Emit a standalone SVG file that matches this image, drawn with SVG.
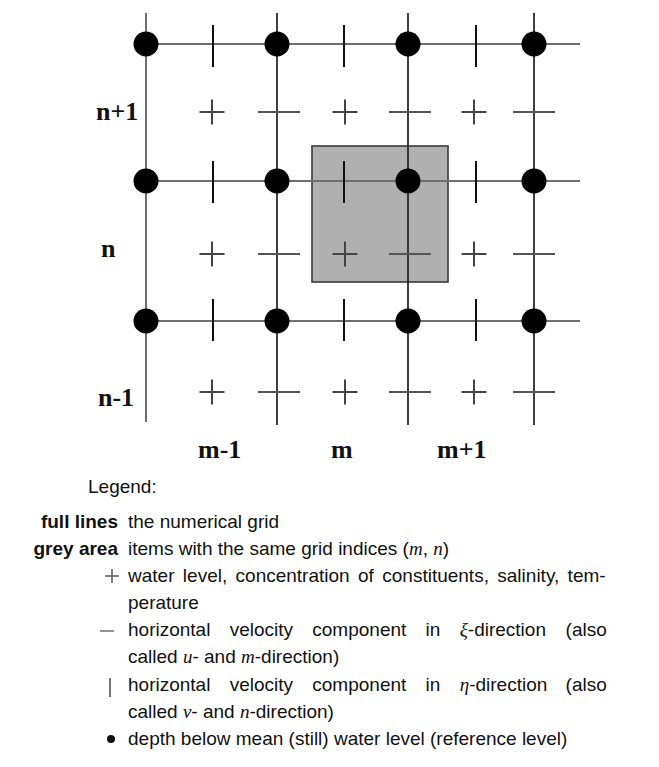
<svg xmlns="http://www.w3.org/2000/svg" width="659" height="767" viewBox="0 0 659 767">
<style>
.gl{stroke:#6e6e6e;stroke-width:2;fill:none}
.gd{stroke:#2a2a2a;stroke-width:1.8;fill:none}
.tick{stroke:#111;stroke-width:2}
.plus{stroke:#444;stroke-width:2}
.dash{stroke:#555;stroke-width:2}
.dot{fill:#000}
.lab{font-family:"Liberation Serif",serif;font-weight:bold;font-size:26px;fill:#111}
.txt{font-family:"Liberation Sans",Arial,sans-serif;font-size:19px;fill:#111}
.bold{font-weight:bold}
.math{font-family:"Liberation Serif",serif;font-style:italic}
</style>
<rect width="659" height="767" fill="#fff"/>
<g id="cell">
<rect x="312" y="146" width="136" height="136" fill="#b0b0b0" stroke="#3a3a3a" stroke-width="1.6"/>
</g>
<g id="grid">
<line class="gl" x1="146" y1="13" x2="146" y2="422"/>
<line class="gd" x1="277" y1="13" x2="277" y2="425"/>
<line class="gd" x1="408" y1="13" x2="408" y2="425"/>
<line class="gd" x1="534" y1="13" x2="534" y2="425"/>
<line class="gl" x1="146" y1="44" x2="580" y2="44"/>
<line class="gl" x1="146" y1="181" x2="580" y2="181"/>
<line class="gl" x1="146" y1="321" x2="580" y2="321"/>
</g>
<g id="v-ticks">
<line class="tick" x1="213" y1="25" x2="213" y2="67"/>
<line class="tick" x1="344" y1="25" x2="344" y2="67"/>
<line class="tick" x1="476" y1="25" x2="476" y2="67"/>
<line class="tick" x1="213" y1="161" x2="213" y2="203"/>
<line class="tick" x1="344" y1="161" x2="344" y2="203"/>
<line class="tick" x1="476" y1="161" x2="476" y2="203"/>
<line class="tick" x1="213" y1="299" x2="213" y2="341"/>
<line class="tick" x1="344" y1="299" x2="344" y2="341"/>
<line class="tick" x1="476" y1="299" x2="476" y2="341"/>
</g>
<g id="plus-signs">
<path class="plus" d="M199.5 112h25M212 99.5v25 M332.5 112h25M345 99.5v25 M461.5 112h25M474 99.5v25"/>
<path class="plus" d="M199.5 254h25M212 241.5v25 M332.5 254h25M345 241.5v25 M461.5 254h25M474 241.5v25"/>
<path class="plus" d="M199.5 392h25M212 379.5v25 M332.5 392h25M345 379.5v25 M461.5 392h25M474 379.5v25"/>
</g>
<g id="u-dashes">
<path class="dash" d="M258 112h42M389 112h42M513 112h42"/>
<path class="dash" d="M258 254h42M389 254h42M513 254h42"/>
<path class="dash" d="M258 392h42M389 392h42M513 392h42"/>
</g>
<g id="depth-points">
<circle class="dot" cx="146" cy="44" r="12.5"/>
<circle class="dot" cx="277" cy="44" r="12.5"/>
<circle class="dot" cx="408" cy="44" r="12.5"/>
<circle class="dot" cx="534" cy="44" r="12.5"/>
<circle class="dot" cx="146" cy="181" r="12.5"/>
<circle class="dot" cx="277" cy="181" r="12.5"/>
<circle class="dot" cx="408" cy="181" r="12.5"/>
<circle class="dot" cx="534" cy="181" r="12.5"/>
<circle class="dot" cx="146" cy="321" r="12.5"/>
<circle class="dot" cx="277" cy="321" r="12.5"/>
<circle class="dot" cx="408" cy="321" r="12.5"/>
<circle class="dot" cx="534" cy="321" r="12.5"/>
</g>
<g id="axis-labels">
<text class="lab" x="96" y="120">n+1</text>
<text class="lab" x="101" y="257">n</text>
<text class="lab" x="98" y="406">n-1</text>
<text class="lab" x="198" y="458">m-1</text>
<text class="lab" x="331" y="458">m</text>
<text class="lab" x="437" y="458">m+1</text>
</g>
<g id="legend">
<text class="txt" x="88" y="493">Legend:</text>
<text class="txt bold" x="118" y="528" text-anchor="end">full lines</text>
<text class="txt" x="128" y="528">the numerical grid</text>
<text class="txt bold" x="118" y="555" text-anchor="end">grey area</text>
<text class="txt" x="128" y="555">items with the same grid indices (<tspan class="math">m</tspan>, <tspan class="math">n</tspan>)</text>
<path d="M105 576h14M112 569v14" stroke="#555" stroke-width="1.4"/>
<text class="txt" x="128" y="582" word-spacing="3.1">water level, concentration of constituents, salinity, tem-</text>
<text class="txt" x="128" y="609">perature</text>
<path d="M100 631h14" stroke="#777" stroke-width="1.6"/>
<text class="txt" y="636"><tspan x="128">horizontal</tspan><tspan x="229.7">velocity</tspan><tspan x="312.3">component</tspan><tspan x="425.6">in</tspan><tspan x="459.7"><tspan class="math">ξ</tspan>-direction</tspan><tspan x="565.6">(also</tspan></text>
<text class="txt" x="128" y="663">called <tspan class="math">u</tspan>- and <tspan class="math">m</tspan>-direction)</text>
<path d="M110 678v19" stroke="#555" stroke-width="1.6"/>
<text class="txt" y="691"><tspan x="128">horizontal</tspan><tspan x="229.7">velocity</tspan><tspan x="312.3">component</tspan><tspan x="425.6">in</tspan><tspan x="459.7"><tspan class="math">η</tspan>-direction</tspan><tspan x="565.6">(also</tspan></text>
<text class="txt" x="128" y="718">called <tspan class="math">v</tspan>- and <tspan class="math">n</tspan>-direction)</text>
<circle cx="111" cy="739" r="4" fill="#111"/>
<text class="txt" x="128" y="745">depth below mean (still) water level (reference level)</text>
</g>
</svg>
